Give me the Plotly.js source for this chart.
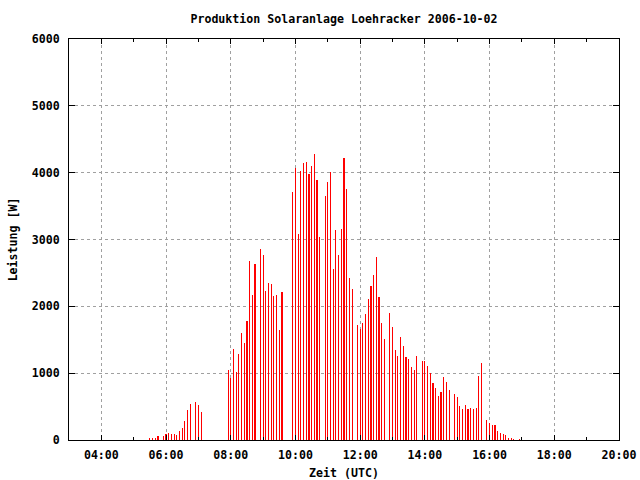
<!DOCTYPE html>
<html>
<head>
<meta charset="utf-8">
<script src="https://cdn.plot.ly/plotly-3.0.1.min.js"></script>
<style>html,body{margin:0;padding:0;background:#fff;}#chart{width:640px;height:480px;}</style>
</head>
<body>
<div id="chart"></div>
<script>
// Measurement times (UTC, HH:MM) on 2006-10-02
const times = [
  "05:30","05:35","05:40","05:45","05:55","06:00","06:05","06:10","06:15","06:20",
  "06:25","06:30","06:35","06:40","06:45","06:55","07:00","07:05",
  "07:55","08:00","08:05","08:10","08:15","08:20","08:25","08:30","08:35","08:40",
  "08:45","08:55","09:00","09:05","09:10","09:15","09:20","09:25","09:30","09:35",
  "09:55","10:00","10:05","10:10","10:15","10:20","10:25","10:30","10:35","10:40",
  "10:45","10:55","11:00","11:05","11:10","11:15","11:20","11:25","11:30","11:35",
  "11:40","11:45","11:55","12:00","12:05","12:10","12:15","12:20","12:25","12:30",
  "12:35","12:40","12:45","12:55","13:00","13:05","13:10","13:15","13:20","13:25",
  "13:30","13:35","13:40","13:45","13:55","14:00","14:05","14:10","14:15","14:20",
  "14:25","14:30","14:35","14:40","14:45","14:55","15:00","15:05","15:10","15:15",
  "15:20","15:25","15:30","15:35","15:40","15:45","15:55","16:00","16:05","16:10",
  "16:15","16:20","16:25","16:30","16:35","16:40","16:45","16:55"
];
// Power output (W)
const power = [
  20,20,35,65,65,95,110,95,95,80,
  140,185,290,455,545,575,530,425,
  1048,933,1362,1018,1287,1602,1452,1781,2680,2170,
  2635,2859,2770,2230,2350,2335,2156,2170,1647,2216,
  3705,4065,3075,4030,4140,4155,3975,4095,4275,3885,
  3040,3645,3855,4005,2565,3135,2775,3150,4215,3750,
  2430,2265,1721,1662,1751,1886,2111,2305,2470,2740,
  2141,1751,1512,1901,1692,1347,1257,1542,1407,1242,
  1212,1093,1048,1257,1183,1183,1108,1003,853,778,
  659,719,943,868,749,689,644,509,464,524,
  464,479,464,479,958,1153,299,254,225,225,
  135,105,90,75,30,30,15,15
];
const day = "2006-10-02";
const titleText = "Produktion Solaranlage Loehracker 2006-10-02";
const xTitle = "Zeit (UTC)";
const yTitle = "Leistung [W]";

const xs = times.map(t => day + " " + t);
const fnt = {family: "DejaVu Sans Mono", size: 11.6, color: "#000", weight: "bold"};

const trace = {
  type: "bar",
  x: xs,
  y: power,
  width: 15000,
  marker: {color: "#ff0000", line: {width: 0}},
  hoverinfo: "skip"
};

const layout = {
  width: 640, height: 480,
  margin: {l: 69, r: 21, t: 39, b: 40, pad: 0},
  paper_bgcolor: "#fff", plot_bgcolor: "#fff",
  showlegend: false,
  font: fnt,
  title: {text: titleText, font: fnt, x: 0.5, xref: "paper", y: 1 - 19/480, yref: "container", yanchor: "middle"},
  xaxis: {
    type: "date",
    range: [day + " 03:00", day + " 20:00"],
    tick0: day + " 04:00", dtick: 7200000, tickformat: "%H:%M",
    ticks: "inside", ticklen: 5, tickcolor: "#000", tickwidth: 1,
    minor: {ticks: "inside", ticklen: 3, dtick: 3600000, tickcolor: "#000", showgrid: false},
    showline: true, linecolor: "#000", linewidth: 1, mirror: "ticks",
    showgrid: true, gridcolor: "#a0a0a0", griddash: "3px,3px", gridwidth: 1,
    zeroline: false, tickfont: fnt, ticklabelstandoff: 4,
    title: {text: xTitle, font: fnt, standoff: 8}
  },
  yaxis: {
    range: [0, 6000], dtick: 1000, tick0: 0,
    ticks: "inside", ticklen: 6, tickcolor: "#000", tickwidth: 1,
    showline: true, linecolor: "#000", linewidth: 1, mirror: "ticks",
    showgrid: true, gridcolor: "#a0a0a0", griddash: "3px,3px", gridwidth: 1,
    zeroline: false, tickfont: fnt, ticklabelstandoff: 6,
    title: {text: yTitle, font: fnt, standoff: 11}
  },
  bargap: 0
};

Plotly.newPlot("chart", [trace], layout, {displayModeBar: false, responsive: false});
</script>
</body>
</html>
